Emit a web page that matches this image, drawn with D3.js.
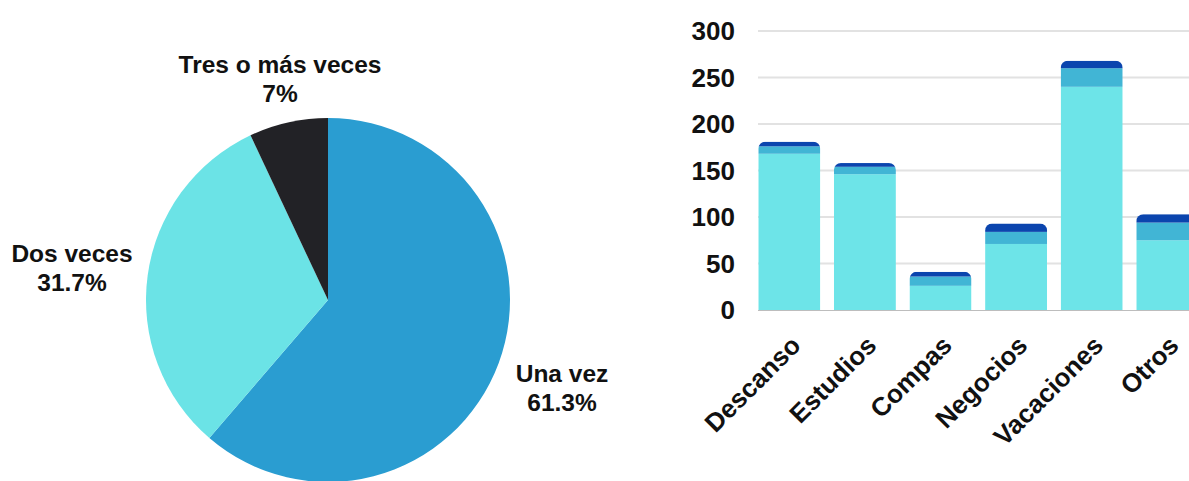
<!DOCTYPE html>
<html>
<head>
<meta charset="utf-8">
<script src="https://cdn.jsdelivr.net/npm/d3@7"></script>
<style>
  body { margin: 0; background: #fff; }
  text { font-family: "Liberation Sans", Arial, sans-serif; font-weight: bold; fill: #111; }
</style>
</head>
<body>
<script>
// pie data
var pieLabels = ["Una vez", "Dos veces", "Tres o más veces"];
var pieValues = [61.3, 31.7, 7];
var pieColors = ["#2a9dd1", "#6be3e6", "#222226"];

// bar data
var categories = ["Descanso", "Estudios", "Compas", "Negocios", "Vacaciones", "Otros"];
var seriesLight = [168, 146, 26, 71, 240, 75];
var seriesMid = [8, 8, 10, 13, 20, 19];
var seriesDark = [5, 4, 5, 9, 8, 9];
var yTicks = [0, 50, 100, 150, 200, 250, 300];
var barColors = ["#6de4e8", "#41b5d5", "#0b45ae"];

var width = 1189, height = 481;

var svg = d3.select("body").append("svg")
  .attr("width", width)
  .attr("height", height);

// ---- pie ----
var pieG = svg.append("g").attr("transform", "translate(328,300)");
var pie = d3.pie().sort(null).value(function(d){ return d; });
var arc = d3.arc().innerRadius(0).outerRadius(182);

pieG.selectAll("path")
  .data(pie(pieValues))
  .enter()
  .append("path")
  .attr("d", arc)
  .attr("fill", function(d, i){ return pieColors[i]; });

// label positions around the pie
var labelPos = [[562, 382], [72, 262], [280, 73]];
var lbl = svg.selectAll("g.plabel")
  .data(pieLabels)
  .enter()
  .append("g")
  .attr("class", "plabel")
  .attr("transform", function(d, i){ return "translate(" + labelPos[i][0] + "," + labelPos[i][1] + ")"; });

lbl.append("text")
  .attr("text-anchor", "middle")
  .attr("font-size", 24.5)
  .text(function(d){ return d; });
lbl.append("text")
  .attr("text-anchor", "middle")
  .attr("font-size", 24.5)
  .attr("y", 29)
  .text(function(d, i){ return pieValues[i] + "%"; });

// ---- stacked bars ----
var x = d3.scaleBand()
  .domain(categories)
  .range([751.5, 1205.1])
  .paddingInner(0.18)
  .paddingOuter(0.09);

var y = d3.scaleLinear()
  .domain([0, 300])
  .range([310, 31]);

// grid
svg.append("g").selectAll("line")
  .data(yTicks.slice(1))
  .enter()
  .append("line")
  .attr("x1", 758)
  .attr("x2", width)
  .attr("y1", function(d){ return y(d); })
  .attr("y2", function(d){ return y(d); })
  .attr("stroke", "#e2e2e2")
  .attr("stroke-width", 2);

svg.append("g").selectAll("text")
  .data(yTicks)
  .enter()
  .append("text")
  .attr("x", 735)
  .attr("y", function(d){ return y(d); })
  .attr("dy", "0.36em")
  .attr("text-anchor", "end")
  .attr("font-size", 26)
  .text(function(d){ return d; });

var stackData = categories.map(function(c, i){
  return { cat: c, light: seriesLight[i], mid: seriesMid[i], dark: seriesDark[i] };
});
var stack = d3.stack().keys(["light", "mid", "dark"]);
var layers = stack(stackData);

var defs = svg.append("defs");
categories.forEach(function(c, i){
  var total = seriesLight[i] + seriesMid[i] + seriesDark[i];
  defs.append("clipPath")
    .attr("id", "clip" + i)
    .append("rect")
    .attr("x", x(c))
    .attr("y", y(total))
    .attr("width", x.bandwidth())
    .attr("height", y(0) - y(total) + 10)
    .attr("rx", 7);
});

var bars = svg.append("g");
layers.forEach(function(layer, k){
  bars.selectAll("rect.l" + k)
    .data(layer)
    .enter()
    .append("rect")
    .attr("class", "l" + k)
    .attr("clip-path", function(d, i){ return "url(#clip" + i + ")"; })
    .attr("x", function(d){ return x(d.data.cat); })
    .attr("y", function(d){ return y(d[1]); })
    .attr("width", x.bandwidth())
    .attr("height", function(d){ return y(d[0]) - y(d[1]); })
    .attr("fill", barColors[k]);
});

svg.append("line")
  .attr("x1", 758).attr("x2", width)
  .attr("y1", 310.5).attr("y2", 310.5)
  .attr("stroke", "#bdbdbd")
  .attr("stroke-width", 1);

// rotated category labels
svg.append("g").selectAll("text")
  .data(categories)
  .enter()
  .append("text")
  .attr("text-anchor", "end")
  .attr("font-size", 26)
  .attr("transform", function(d){
    return "translate(" + (x(d) + x.bandwidth() / 2 + 13) + ",347) rotate(-45)";
  })
  .text(function(d){ return d; });
</script>
</body>
</html>
